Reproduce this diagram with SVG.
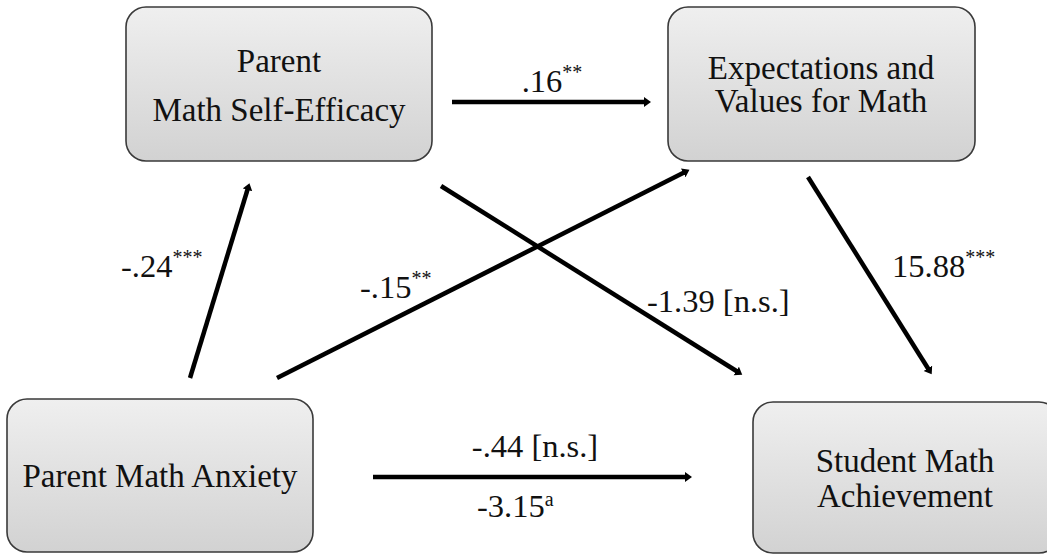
<svg xmlns="http://www.w3.org/2000/svg" width="1047" height="554" viewBox="0 0 1047 554">
<style>
.box{fill:url(#g);stroke:#3a3a3a;stroke-width:1.6}
.t{font-family:'Liberation Serif','DejaVu Serif',serif;font-size:33px;fill:#111;text-anchor:middle}
.l{font-family:'Liberation Serif','DejaVu Serif',serif;font-size:32.5px;fill:#111}
.s{font-size:20px}
.c{stroke:#000;stroke-width:4.5;fill:none;marker-end:url(#ah)}
</style>
<defs>
<linearGradient id="g" x1="0" y1="0" x2="0" y2="1">
<stop offset="0" stop-color="#efefef"/>
<stop offset="1" stop-color="#d2d2d2"/>
</linearGradient>
<marker id="ah" markerUnits="userSpaceOnUse" markerWidth="12" markerHeight="12" refX="2" refY="5" orient="auto">
<path d="M0,0 L7,5 L0,10 Z" fill="#000"/>
</marker>
</defs>
<rect width="1047" height="554" fill="#fff"/>
<g id="connectors">
<line class="c" x1="452" y1="102" x2="646" y2="102"/>
<line class="c" x1="190" y1="378" x2="248" y2="188"/>
<line class="c" x1="277" y1="378" x2="685" y2="172"/>
<line class="c" x1="441" y1="186" x2="738" y2="372"/>
<line class="c" x1="808" y1="177" x2="929" y2="370"/>
<line class="c" x1="373" y1="477" x2="687" y2="477"/>
</g>
<g id="labels">
<text class="l" x="552" y="92" text-anchor="middle">.16<tspan class="s" dy="-13">**</tspan></text>
<text class="l" x="121" y="277">-.24<tspan class="s" dy="-13">***</tspan></text>
<text class="l" x="360" y="298">-.15<tspan class="s" dy="-13">**</tspan></text>
<text class="l" x="647" y="312">-1.39 [n.s.]</text>
<text class="l" x="892" y="277">15.88<tspan class="s" dy="-13">***</tspan></text>
<text class="l" x="535" y="457" text-anchor="middle">-.44 [n.s.]</text>
<text class="l" x="477" y="517">-3.15<tspan class="s" dy="-11">a</tspan></text>
</g>
<g id="node-self-efficacy">
<rect class="box" x="126" y="7" width="306" height="154" rx="20"/>
<text class="t" x="279" y="72">Parent</text>
<text class="t" x="279" y="121">Math Self-Efficacy</text>
</g>
<g id="node-expectations">
<rect class="box" x="668" y="7" width="307" height="154" rx="20"/>
<text class="t" x="821" y="79">Expectations and</text>
<text class="t" x="821" y="112">Values for Math</text>
</g>
<g id="node-anxiety">
<rect class="box" x="7" y="399" width="306" height="153" rx="20"/>
<text class="t" x="160" y="487">Parent Math Anxiety</text>
</g>
<g id="node-achievement">
<rect class="box" x="753" y="402" width="306" height="151" rx="20"/>
<text class="t" x="905" y="472">Student Math</text>
<text class="t" x="905" y="507">Achievement</text>
</g>
</svg>
